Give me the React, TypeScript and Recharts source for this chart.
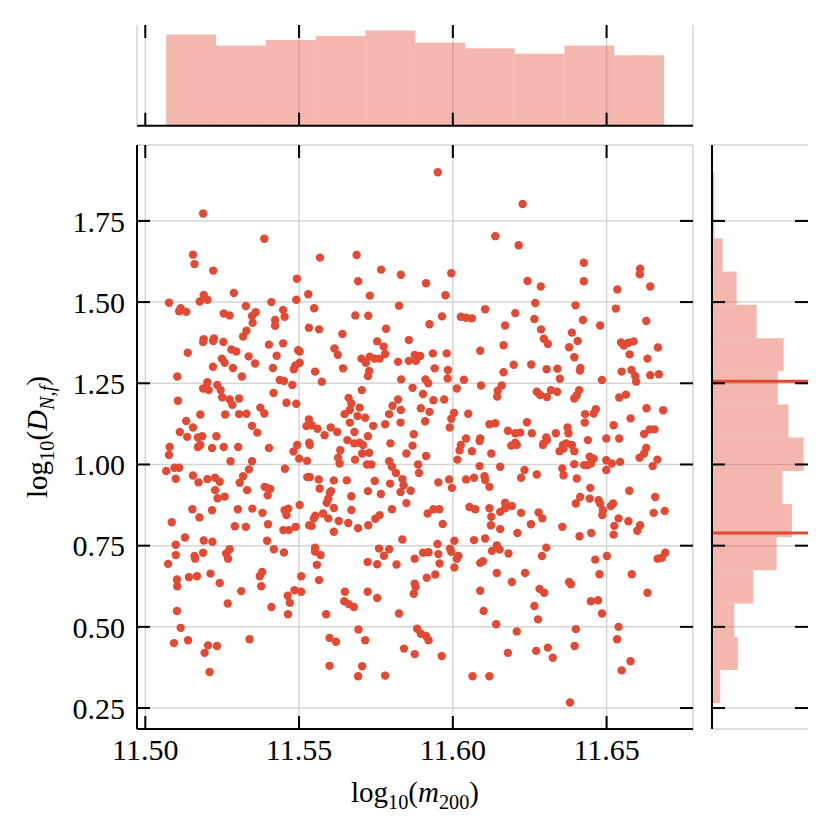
import React from 'react';
import {
  ScatterChart,
  Scatter,
  XAxis,
  YAxis,
  CartesianGrid,
  ComposedChart,
  ReferenceArea,
  ReferenceLine,
} from 'recharts';

// log10(m200), log10(D_N,f) pairs
const scatterPoints: [number, number][] = [
  [11.5188, 1.773], [11.5387, 1.695], [11.5155, 1.646], [11.516, 1.617], [11.5221, 1.597],
  [11.5568, 1.637], [11.5687, 1.645], [11.5493, 1.572], [11.5692, 1.564], [11.5767, 1.6], [11.5831, 1.584],
  [11.519, 1.522], [11.5177, 1.502], [11.5202, 1.507], [11.5288, 1.528], [11.5077, 1.498], [11.5115, 1.481], [11.511, 1.472], [11.5133, 1.47],
  [11.541, 1.5], [11.5491, 1.507], [11.553, 1.524], [11.5327, 1.488], [11.5549, 1.481], [11.573, 1.52], [11.5825, 1.489],
  [11.5255, 1.465], [11.5274, 1.459], [11.5359, 1.469], [11.5347, 1.457], [11.5448, 1.476], [11.5453, 1.455], [11.5422, 1.445], [11.5422, 1.427], [11.5349, 1.436], [11.5683, 1.459], [11.5725, 1.458],
  [11.5329, 1.412], [11.5318, 1.394], [11.5532, 1.421], [11.5565, 1.416], [11.5783, 1.418], [11.5641, 1.402],
  [11.519, 1.386], [11.5188, 1.377], [11.5223, 1.388], [11.5221, 1.38], [11.5254, 1.377], [11.5138, 1.344], [11.528, 1.354], [11.5296, 1.348], [11.5402, 1.369], [11.5448, 1.373], [11.5497, 1.352], [11.5502, 1.348], [11.5615, 1.357], [11.5626, 1.338], [11.5754, 1.379], [11.5775, 1.363], [11.5857, 1.383],
  [11.5336, 1.333], [11.5249, 1.326], [11.5258, 1.313], [11.5357, 1.311], [11.5427, 1.335], [11.522, 1.301], [11.5285, 1.297], [11.5415, 1.297], [11.5483, 1.293], [11.5488, 1.305], [11.5502, 1.313], [11.5552, 1.286], [11.5643, 1.296], [11.5703, 1.326], [11.5717, 1.313], [11.573, 1.332], [11.5746, 1.326], [11.5762, 1.326], [11.578, 1.34], [11.5728, 1.288], [11.5724, 1.272], [11.5822, 1.316], [11.5857, 1.319], [11.5876, 1.337], [11.588, 1.319],
  [11.5104, 1.271], [11.5314, 1.271], [11.5437, 1.26], [11.5451, 1.257], [11.5478, 1.245], [11.5574, 1.255], [11.5832, 1.262], [11.5202, 1.253], [11.5188, 1.234], [11.5206, 1.229], [11.5234, 1.245], [11.5245, 1.229], [11.5869, 1.236], [11.5704, 1.229],
  [11.5106, 1.196], [11.525, 1.207], [11.5274, 1.2], [11.5283, 1.184], [11.5305, 1.203], [11.5417, 1.22], [11.5459, 1.19], [11.5491, 1.187], [11.5374, 1.175], [11.5387, 1.157], [11.5179, 1.154], [11.526, 1.154], [11.5305, 1.155], [11.5329, 1.156],
  [11.5661, 1.205], [11.567, 1.188], [11.5697, 1.175], [11.5665, 1.168], [11.5648, 1.155], [11.569, 1.149], [11.5715, 1.144], [11.5665, 1.129], [11.5793, 1.155], [11.5804, 1.181], [11.5822, 1.2], [11.5831, 1.168], [11.583, 1.129], [11.578, 1.124], [11.5741, 1.119],
  [11.5133, 1.134], [11.5155, 1.114], [11.5347, 1.119], [11.5532, 1.139], [11.5524, 1.118], [11.5541, 1.121], [11.556, 1.11], [11.5603, 1.114],
  [11.5112, 1.1], [11.5364, 1.098], [11.5624, 1.1], [11.568, 1.1], [11.5873, 1.093],
  [11.5951, 1.9], [11.6227, 1.802], [11.6138, 1.703], [11.6214, 1.675], [11.6426, 1.621], [11.6426, 1.564], [11.5995, 1.589], [11.5913, 1.558], [11.5976, 1.521], [11.6243, 1.565], [11.6286, 1.548], [11.6609, 1.603], [11.6608, 1.586], [11.6642, 1.548], [11.6535, 1.539],
  [11.6268, 1.497], [11.6399, 1.49], [11.653, 1.48], [11.6105, 1.478], [11.6203, 1.466], [11.6026, 1.455], [11.6043, 1.452], [11.6062, 1.45], [11.5965, 1.456], [11.5924, 1.432], [11.6265, 1.448], [11.617, 1.428], [11.6423, 1.445], [11.6479, 1.428], [11.6629, 1.442],
  [11.6287, 1.416], [11.6296, 1.387], [11.6309, 1.371], [11.6387, 1.406], [11.6406, 1.38], [11.6378, 1.361], [11.6395, 1.33], [11.6165, 1.367], [11.6089, 1.35],
  [11.6547, 1.376], [11.6556, 1.366], [11.6571, 1.375], [11.6588, 1.379], [11.6575, 1.339], [11.6667, 1.36], [11.6633, 1.326],
  [11.5935, 1.342], [11.598, 1.342], [11.5894, 1.334], [11.5941, 1.296], [11.5984, 1.291], [11.5983, 1.265], [11.5911, 1.262], [11.592, 1.25], [11.6036, 1.261], [11.6165, 1.284], [11.6198, 1.307], [11.6255, 1.308], [11.6305, 1.293], [11.634, 1.295], [11.6348, 1.264], [11.6413, 1.289], [11.6415, 1.297], [11.6485, 1.26],
  [11.6549, 1.286], [11.6581, 1.291], [11.6593, 1.272], [11.6596, 1.255], [11.6642, 1.275], [11.667, 1.278],
  [11.6092, 1.243], [11.6159, 1.243], [11.6146, 1.227], [11.6144, 1.209], [11.6013, 1.234], [11.5903, 1.217], [11.5937, 1.198], [11.5972, 1.2],
  [11.6273, 1.224], [11.6284, 1.214], [11.6306, 1.208], [11.6319, 1.229], [11.6339, 1.224], [11.6411, 1.229], [11.6403, 1.213], [11.6395, 1.203], [11.6541, 1.206], [11.6563, 1.215],
  [11.5896, 1.173], [11.5924, 1.162], [11.591, 1.133], [11.6004, 1.159], [11.5995, 1.141], [11.599, 1.114], [11.605, 1.156],
  [11.643, 1.155], [11.6429, 1.129], [11.6458, 1.157], [11.6465, 1.17], [11.663, 1.173], [11.6684, 1.167], [11.6578, 1.142],
  [11.6119, 1.124], [11.6138, 1.127], [11.6241, 1.13], [11.6523, 1.121], [11.6373, 1.114], [11.664, 1.108], [11.6656, 1.108], [11.6622, 1.094],
  [11.6179, 1.104], [11.6203, 1.096], [11.6219, 1.098], [11.6257, 1.096], [11.6335, 1.096], [11.6376, 1.096],
  [11.5136, 1.085], [11.5171, 1.083], [11.5185, 1.087], [11.5231, 1.087], [11.5583, 1.09], [11.5724, 1.087],
  [11.5079, 1.054], [11.5077, 1.029], [11.5171, 1.054], [11.5179, 1.06], [11.5217, 1.051], [11.5255, 1.054], [11.5302, 1.054], [11.5402, 1.051],
  [11.5277, 1.01], [11.5347, 1.01], [11.5068, 0.98], [11.5095, 0.99], [11.511, 0.99], [11.5099, 0.956], [11.5155, 0.966], [11.5173, 0.945], [11.5202, 0.955], [11.5227, 0.959], [11.5242, 0.947],
  [11.5227, 0.921], [11.5235, 0.896], [11.5258, 0.901], [11.5307, 0.944], [11.5318, 0.964], [11.5331, 0.921], [11.5337, 0.985],
  [11.5396, 0.928], [11.5388, 0.931], [11.5406, 0.925], [11.5398, 0.905], [11.5454, 0.987],
  [11.5494, 1.06], [11.5482, 1.04], [11.55, 1.018], [11.5526, 1.011], [11.5535, 1.06], [11.5533, 1.067],
  [11.5527, 0.961], [11.5535, 0.961], [11.5564, 0.954], [11.5567, 0.926], [11.5613, 0.951], [11.5655, 0.951],
  [11.56, 0.913], [11.5595, 0.895], [11.559, 0.882], [11.5604, 0.918], [11.5613, 0.866], [11.567, 0.902], [11.567, 0.86],
  [11.5724, 0.918], [11.5746, 0.949], [11.5766, 0.909], [11.5796, 0.941], [11.5802, 0.862], [11.5836, 0.955], [11.584, 0.936], [11.583, 0.915], [11.5863, 0.919], [11.5849, 0.881],
  [11.5793, 1.01], [11.5797, 1.065], [11.5802, 0.993], [11.5815, 0.974], [11.5849, 1.034], [11.5869, 1.058], [11.5887, 1.0], [11.589, 0.974],
  [11.5627, 1.021], [11.5632, 1.003], [11.5657, 1.075], [11.5679, 1.065], [11.5697, 1.067], [11.5708, 1.06], [11.5728, 1.036], [11.5735, 1.0], [11.5721, 1.0], [11.5705, 1.034], [11.5682, 1.015], [11.5634, 1.044],
  [11.5578, 0.849], [11.5595, 0.834], [11.5629, 0.826], [11.5613, 0.793], [11.566, 0.82], [11.5692, 0.804], [11.5725, 0.813], [11.5748, 0.833], [11.5762, 0.844],
  [11.5548, 0.834], [11.5541, 0.811], [11.5533, 0.813], [11.5553, 0.842],
  [11.5453, 0.859], [11.5459, 0.844], [11.5465, 0.864], [11.5449, 0.798], [11.5467, 0.798], [11.5489, 0.808], [11.5502, 0.875],
  [11.5153, 0.862], [11.5176, 0.837], [11.5217, 0.859], [11.5301, 0.862], [11.5348, 0.864], [11.5381, 0.851], [11.5399, 0.816], [11.5291, 0.81], [11.5327, 0.808],
  [11.5086, 0.822], [11.5129, 0.775], [11.5099, 0.753], [11.5099, 0.721], [11.5074, 0.694], [11.519, 0.766], [11.5218, 0.762], [11.516, 0.718], [11.5162, 0.71], [11.5188, 0.728], [11.5263, 0.726], [11.5269, 0.71], [11.5274, 0.739],
  [11.5396, 0.765], [11.5418, 0.739], [11.5451, 0.729], [11.5552, 0.744], [11.5552, 0.732], [11.557, 0.721], [11.5558, 0.691], [11.5565, 0.644], [11.5507, 0.656],
  [11.5723, 0.7], [11.5754, 0.693], [11.576, 0.741], [11.5776, 0.719], [11.5793, 0.739], [11.5817, 0.692], [11.5836, 0.769],
  [11.5876, 0.71], [11.5903, 0.728], [11.5876, 0.633], [11.5879, 0.623], [11.5873, 0.602],
  [11.5103, 0.646], [11.5104, 0.625], [11.5142, 0.653], [11.5168, 0.656], [11.5212, 0.664], [11.5242, 0.635], [11.5372, 0.656], [11.538, 0.669], [11.5377, 0.625], [11.5312, 0.61], [11.5268, 0.572], [11.541, 0.561],
  [11.5463, 0.596], [11.547, 0.574], [11.5464, 0.539], [11.5485, 0.613], [11.5507, 0.608], [11.5588, 0.539], [11.5649, 0.608], [11.5647, 0.579], [11.5662, 0.57], [11.5678, 0.561], [11.5723, 0.608], [11.5754, 0.589], [11.5825, 0.541],
  [11.5103, 0.549], [11.5115, 0.497], [11.5093, 0.45], [11.5139, 0.459], [11.5204, 0.443], [11.5233, 0.441], [11.5193, 0.42], [11.5209, 0.361], [11.5339, 0.462], [11.5599, 0.466], [11.562, 0.454], [11.5693, 0.492], [11.5715, 0.459], [11.5599, 0.38], [11.5692, 0.348], [11.5705, 0.379], [11.578, 0.35], [11.5841, 0.433], [11.5876, 0.416], [11.5884, 0.494], [11.5896, 0.479],
  [11.6043, 1.08], [11.6089, 1.08], [11.6087, 1.072], [11.6304, 1.083], [11.6306, 1.075], [11.6439, 1.075], [11.6499, 1.08], [11.6541, 1.08],
  [11.6026, 1.06], [11.6022, 1.044], [11.6015, 1.015], [11.6062, 1.041], [11.6125, 1.034], [11.619, 1.058], [11.6208, 1.06], [11.6203, 1.067], [11.6295, 1.065], [11.6293, 1.06], [11.6347, 1.041], [11.6358, 1.06], [11.6369, 1.065], [11.6387, 1.06], [11.6395, 1.041], [11.636, 1.049],
  [11.6445, 1.024], [11.6458, 1.018], [11.6449, 1.003], [11.6438, 0.998], [11.6427, 0.998], [11.6395, 1.001],
  [11.6499, 1.013], [11.6517, 1.003], [11.6544, 1.008], [11.6499, 0.983],
  [11.6607, 1.021], [11.6622, 1.034], [11.6629, 1.051], [11.665, 0.995], [11.6665, 1.015],
  [11.6087, 0.995], [11.6154, 0.993], [11.6103, 0.964], [11.6105, 0.952], [11.6119, 0.931],
  [11.6043, 0.954], [11.6069, 0.959], [11.5988, 0.954], [11.5997, 0.928], [11.5953, 0.945],
  [11.6222, 0.959], [11.6233, 0.983], [11.6273, 0.969], [11.6356, 0.988], [11.636, 0.967], [11.6403, 0.957],
  [11.6447, 0.928], [11.6414, 0.9], [11.64, 0.88], [11.6445, 0.895], [11.6474, 0.89], [11.6479, 0.88], [11.6488, 0.859], [11.6486, 0.844], [11.6521, 0.88], [11.6514, 0.872],
  [11.6574, 0.919], [11.6658, 0.9], [11.6653, 0.851], [11.6689, 0.857], [11.6539, 0.834], [11.6525, 0.811], [11.6523, 0.784], [11.6571, 0.825], [11.6609, 0.813], [11.66, 0.796],
  [11.6054, 0.869], [11.6073, 0.862], [11.6119, 0.865], [11.6154, 0.854], [11.617, 0.865], [11.617, 0.882], [11.6192, 0.872], [11.6125, 0.839], [11.6124, 0.813], [11.6154, 0.801], [11.6222, 0.851], [11.621, 0.789],
  [11.6254, 0.816], [11.6279, 0.852], [11.6291, 0.834], [11.6356, 0.808], [11.6412, 0.779], [11.645, 0.789],
  [11.5918, 0.849], [11.5937, 0.862], [11.5956, 0.862], [11.5967, 0.817], [11.5913, 1.026],
  [11.6069, 0.767], [11.6105, 0.772], [11.6005, 0.765], [11.5991, 0.741], [11.5995, 0.731], [11.6018, 0.718], [11.6013, 0.71], [11.6005, 0.683],
  [11.595, 0.755], [11.5953, 0.724], [11.5957, 0.695], [11.5943, 0.661], [11.5915, 0.651], [11.5921, 0.73],
  [11.6143, 0.751], [11.6152, 0.738], [11.6127, 0.734], [11.6181, 0.726], [11.6304, 0.744], [11.629, 0.718],
  [11.6089, 0.697], [11.6098, 0.702], [11.6143, 0.666], [11.6192, 0.638], [11.6235, 0.666],
  [11.6463, 0.707], [11.6501, 0.718], [11.6477, 0.662], [11.6582, 0.662], [11.6633, 0.605], [11.6666, 0.71], [11.6691, 0.728], [11.668, 0.713],
  [11.6378, 0.638], [11.6384, 0.631], [11.6282, 0.617], [11.6297, 0.605], [11.6265, 0.564], [11.6277, 0.523],
  [11.6089, 0.611], [11.61, 0.549], [11.6141, 0.508],
  [11.6449, 0.579], [11.6472, 0.582], [11.6485, 0.541],
  [11.64, 0.493], [11.6396, 0.441], [11.6208, 0.486], [11.6539, 0.5], [11.6534, 0.462],
  [11.6179, 0.42], [11.6271, 0.426], [11.6309, 0.436], [11.6325, 0.405], [11.5964, 0.41],
  [11.6064, 0.348], [11.6119, 0.348], [11.6549, 0.366], [11.6578, 0.394], [11.6381, 0.267],
  [11.5913, 0.472], [11.5921, 0.459],
];

// marginal histogram of log10(m200)
const massBinEdges = [11.5068, 11.523, 11.5392, 11.5554, 11.5716, 11.5878, 11.604, 11.6201, 11.6363, 11.6525, 11.6687];
const massCounts = [66, 58, 62, 65, 69, 60, 56, 52, 58, 51];

// marginal histogram of log10(D_N,f), bottom to top
const dnfBinEdges = [0.265, 0.367, 0.469, 0.572, 0.674, 0.776, 0.878, 0.98, 1.083, 1.185, 1.287, 1.389, 1.492, 1.594, 1.696, 1.798, 1.9];
const dnfCounts = [7, 22, 19, 35, 55, 68, 60, 78, 65, 56, 61, 38, 21, 9, 2, 2];

// horizontal markers on the right histogram
const dnfQuantiles = [0.789, 1.256];

const xTicks = [11.5, 11.55, 11.6, 11.65];
const yTicks = [0.25, 0.5, 0.75, 1.0, 1.25, 1.5, 1.75];
const xDomain: [number, number] = [11.4973, 11.6781];
const yDomain: [number, number] = [0.1855, 1.9837];
const massCountMax = 72.9;
const dnfCountMax = 81.7;

const RED = '#E24A33';
const GRID = '#d5d5d5';
const FONT = '"Liberation Serif", serif';
const TICK_LEN = -13;
const lineStyle = { stroke: '#000', strokeWidth: 2 };
const tickFont = { fontFamily: FONT, fontSize: 30, fill: '#000' };

const EmptyTick = () => <g />;
const fmt = (v: number) => v.toFixed(2);

const Dot = (props: any) => <circle cx={props.cx} cy={props.cy} r={4.2} fill={RED} />;

export default function App() {
  const points = scatterPoints.map(([x, y]) => ({ x, y }));
  const massBins = massCounts.map((c, i) => ({ x: (massBinEdges[i] + massBinEdges[i + 1]) / 2, c }));
  const dnfBins = dnfCounts.map((c, i) => ({ y: (dnfBinEdges[i] + dnfBinEdges[i + 1]) / 2, c }));

  return (
    <div style={{ position: 'absolute', left: 0, top: 0, width: 832, height: 832, background: '#fff' }}>
      {/* main scatter */}
      <div style={{ position: 'absolute', left: 0, top: 0 }}>
        <ScatterChart width={832} height={832} margin={{ top: 0, right: 0, bottom: 0, left: 0 }}>
          <CartesianGrid stroke={GRID} strokeWidth={1.5} />
          <XAxis
            type="number" dataKey="x" domain={xDomain} allowDataOverflow ticks={xTicks}
            tickFormatter={fmt} height={103} tickSize={TICK_LEN} tickMargin={23} interval={0}
            axisLine={lineStyle} tickLine={lineStyle} tick={tickFont}
          />
          <XAxis
            xAxisId="top" orientation="top" type="number" dataKey="x" domain={xDomain} allowDataOverflow
            ticks={xTicks} height={145} tickSize={TICK_LEN} interval={0}
            axisLine={false} tickLine={lineStyle} tick={EmptyTick}
          />
          <YAxis
            type="number" dataKey="y" domain={yDomain} allowDataOverflow ticks={yTicks}
            tickFormatter={fmt} width={137} tickSize={TICK_LEN} tickMargin={25} interval={0}
            axisLine={lineStyle} tickLine={lineStyle} tick={tickFont}
          />
          <YAxis
            yAxisId="right" orientation="right" type="number" dataKey="y" domain={yDomain} allowDataOverflow
            ticks={yTicks} width={139} tickSize={TICK_LEN} interval={0}
            axisLine={false} tickLine={lineStyle} tick={EmptyTick}
          />
          <Scatter data={points} shape={Dot} isAnimationActive={false} />
        </ScatterChart>
      </div>

      {/* top marginal histogram */}
      <div style={{ position: 'absolute', left: 0, top: 0 }}>
        <ComposedChart width={832} height={150} data={massBins} margin={{ top: 0, right: 139, bottom: 0, left: 137 }}>
          <CartesianGrid stroke={GRID} strokeWidth={1.5} horizontal={false} />
          <XAxis
            type="number" dataKey="x" domain={xDomain} allowDataOverflow ticks={xTicks} height={24.3}
            tickSize={TICK_LEN} interval={0} axisLine={lineStyle} tickLine={lineStyle} tick={EmptyTick}
          />
          <XAxis
            xAxisId="top" orientation="top" type="number" dataKey="x" domain={xDomain} allowDataOverflow
            ticks={xTicks} height={25} tickSize={TICK_LEN} interval={0}
            axisLine={false} tickLine={lineStyle} tick={EmptyTick}
          />
          <YAxis hide type="number" dataKey="c" domain={[0, massCountMax]} allowDataOverflow />
          {massCounts.map((c, i) => (
            <ReferenceArea
              key={i} x1={massBinEdges[i]} x2={massBinEdges[i + 1]} y1={0} y2={c}
              fill={RED} fillOpacity={0.4} stroke="none"
            />
          ))}
        </ComposedChart>
      </div>

      {/* right marginal histogram */}
      <div style={{ position: 'absolute', left: 0, top: 0 }}>
        <ComposedChart width={832} height={832} data={dnfBins} margin={{ top: 145, right: 14, bottom: 103, left: 702 }}>
          <CartesianGrid stroke={GRID} strokeWidth={1.5} vertical={false} />
          <XAxis hide type="number" dataKey="c" domain={[0, dnfCountMax]} allowDataOverflow />
          <YAxis
            type="number" dataKey="y" domain={yDomain} allowDataOverflow ticks={yTicks} width={10}
            tickSize={TICK_LEN} interval={0} axisLine={lineStyle} tickLine={lineStyle} tick={EmptyTick}
          />
          <YAxis
            yAxisId="right" orientation="right" type="number" dataKey="y" domain={yDomain} allowDataOverflow
            ticks={yTicks} width={10} tickSize={TICK_LEN} interval={0}
            axisLine={false} tickLine={lineStyle} tick={EmptyTick}
          />
          {dnfCounts.map((c, i) => (
            <ReferenceArea
              key={i} x1={0} x2={c} y1={dnfBinEdges[i]} y2={dnfBinEdges[i + 1]}
              fill={RED} fillOpacity={0.4} stroke="none"
            />
          ))}
          {dnfQuantiles.map((q) => (
            <ReferenceLine key={q} y={q} stroke={RED} strokeWidth={3} />
          ))}
        </ComposedChart>
      </div>

      {/* axis titles */}
      <div
        style={{
          position: 'absolute', left: 415, top: 795, transform: 'translate(-50%, -50%)',
          fontFamily: FONT, fontSize: 29, whiteSpace: 'nowrap', color: '#000',
        }}
      >
        log<sub style={{ fontSize: '0.7em' }}>10</sub>(<i>m</i><sub style={{ fontSize: '0.7em' }}>200</sub>)
      </div>
      <div
        style={{
          position: 'absolute', left: 40, top: 437, transform: 'translate(-50%, -50%) rotate(-90deg)',
          fontFamily: FONT, fontSize: 29, whiteSpace: 'nowrap', color: '#000',
        }}
      >
        log<sub style={{ fontSize: '0.7em' }}>10</sub>(<i>D</i><sub style={{ fontSize: '0.7em' }}><i>N,f</i></sub>)
      </div>
    </div>
  );
}
